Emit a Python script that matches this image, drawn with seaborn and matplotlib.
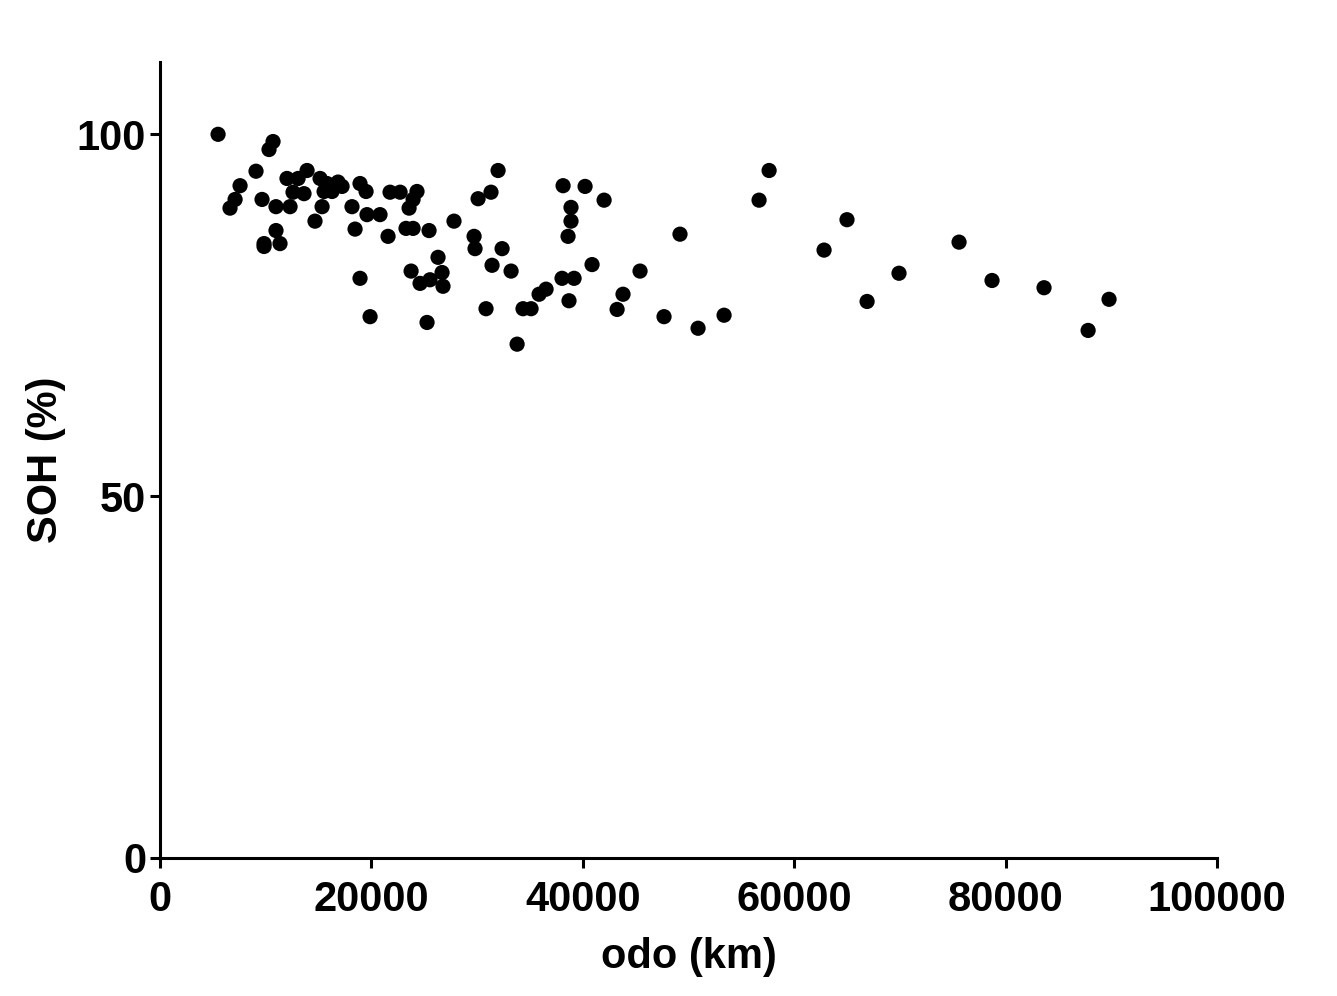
import seaborn as sns
import matplotlib.pyplot as plt
import pandas as pd

# odometer (km) and state of health (%) per vehicle
odo_km = [
    5490, 10690, 10310, 9080, 7570, 7100, 6620, 9650, 10970, 12300,
    12010, 13060, 13910, 12580, 13620, 15140, 15800, 16840, 15520, 16270,
    17220, 15330, 14660, 10970, 9840, 9840, 11350, 18920, 19490, 18160,
    19580, 20810, 18450, 21570, 21760, 22710, 24310, 23940, 23560, 23270,
    23940, 25450, 27810, 26300, 23750, 26680, 25540, 24600, 26770, 18920,
    19870, 25260, 31980, 31310, 30090, 29710, 29800, 32360, 31410, 33210,
    30840, 33780, 34340, 35100, 35860, 36520, 38030, 39170, 38690, 40870,
    38130, 40210, 42010, 38880, 38880, 38600, 45410, 43800, 43240, 47680,
    50900, 49190, 53360, 57620, 56670, 64990, 62820, 69910, 66890, 75590,
    78710, 83630, 89780, 87800,
]
soh_pct = [
    100.0, 99.0, 97.9, 94.9, 92.9, 91.0, 89.8, 91.0, 90.0, 90.0,
    93.9, 93.9, 95.0, 92.0, 91.8, 93.9, 93.2, 93.4, 92.1, 92.1,
    92.8, 90.0, 88.0, 86.7, 84.9, 84.5, 84.9, 93.2, 92.1, 90.0,
    88.9, 88.9, 86.9, 85.9, 92.0, 92.0, 92.1, 91.0, 89.8, 87.0,
    87.0, 86.7, 88.0, 83.0, 81.1, 80.9, 79.9, 79.4, 79.0, 80.1,
    74.8, 74.0, 95.0, 92.0, 91.1, 85.9, 84.2, 84.2, 81.9, 81.1,
    75.9, 71.0, 75.9, 75.9, 77.9, 78.6, 80.1, 80.1, 77.0, 82.0,
    92.9, 92.8, 90.9, 89.9, 88.0, 85.9, 81.1, 77.9, 75.8, 74.8,
    73.2, 86.2, 75.0, 95.0, 90.9, 88.2, 84.0, 80.8, 76.9, 85.1,
    79.8, 78.8, 77.2, 72.9,
]

df = pd.DataFrame({"odo (km)": odo_km, "SOH (%)": soh_pct})

sns.set_style("ticks")
plt.rcParams['font.family'] = ['Liberation Sans', 'DejaVu Sans']
plt.rcParams['font.weight'] = 'bold'
plt.rcParams['text.color'] = 'black'
plt.rcParams['axes.labelcolor'] = 'black'
plt.rcParams['xtick.color'] = 'black'
plt.rcParams['ytick.color'] = 'black'
plt.rcParams['axes.edgecolor'] = 'black'

fig = plt.figure(figsize=(13.37, 9.96), dpi=100)
ax = fig.add_axes([0.1197, 0.1386, 0.7906, 0.7992])

sns.scatterplot(data=df, x="odo (km)", y="SOH (%)", ax=ax,
                color="black", s=120, edgecolor="none", clip_on=False)

ax.set_xlim(0, 100000)
ax.set_ylim(0, 110)
ax.set_xticks([0, 20000, 40000, 60000, 80000, 100000])
ax.set_yticks([0, 50, 100])
ax.tick_params(axis="both", width=2.2, length=7, labelsize=30)
ax.tick_params(axis="x", pad=9)
ax.tick_params(axis="y", pad=3)
for lbl in ax.get_xticklabels() + ax.get_yticklabels():
    lbl.set_fontweight("bold")

ax.set_xlabel("odo (km)", fontsize=30, fontweight="bold", labelpad=12)
ax.set_ylabel("SOH (%)", fontsize=30, fontweight="bold", labelpad=8)

sns.despine(ax=ax)
for side in ["left", "bottom"]:
    ax.spines[side].set_linewidth(2.2)

fig.savefig("out.png", dpi=100)
